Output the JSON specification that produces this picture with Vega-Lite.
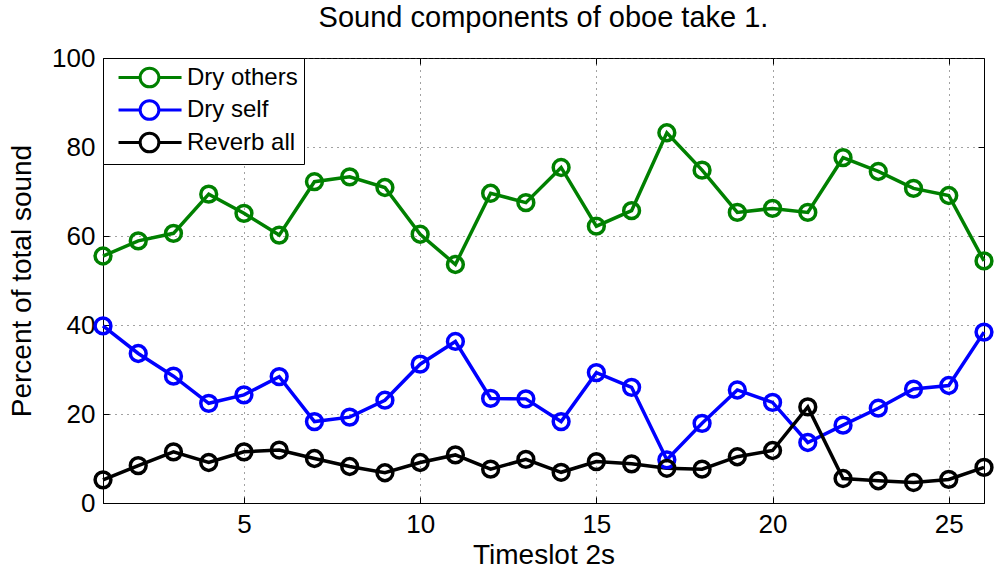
{
  "$schema": "https://vega.github.io/schema/vega-lite/v6.json",
  "width": 881,
  "height": 445,
  "autosize": {"type": "none"},
  "padding": {"left": 103, "top": 58, "right": 10, "bottom": 68},
  "background": "white",
  "title": {
    "text": "Sound components of oboe take 1.",
    "font": "Liberation Sans",
    "fontSize": 29,
    "fontWeight": "normal",
    "color": "black",
    "anchor": "middle",
    "offset": 12
  },
  "datasets": {
    "components": [
      {"slot": 1, "series": "Dry others", "pct": 55.5},
      {"slot": 2, "series": "Dry others", "pct": 58.9},
      {"slot": 3, "series": "Dry others", "pct": 60.6},
      {"slot": 4, "series": "Dry others", "pct": 69.4},
      {"slot": 5, "series": "Dry others", "pct": 65.1},
      {"slot": 6, "series": "Dry others", "pct": 60.2},
      {"slot": 7, "series": "Dry others", "pct": 72.2},
      {"slot": 8, "series": "Dry others", "pct": 73.3},
      {"slot": 9, "series": "Dry others", "pct": 70.9},
      {"slot": 10, "series": "Dry others", "pct": 60.4},
      {"slot": 11, "series": "Dry others", "pct": 53.6},
      {"slot": 12, "series": "Dry others", "pct": 69.6},
      {"slot": 13, "series": "Dry others", "pct": 67.5},
      {"slot": 14, "series": "Dry others", "pct": 75.4},
      {"slot": 15, "series": "Dry others", "pct": 62.2},
      {"slot": 16, "series": "Dry others", "pct": 65.7},
      {"slot": 17, "series": "Dry others", "pct": 83.2},
      {"slot": 18, "series": "Dry others", "pct": 74.8},
      {"slot": 19, "series": "Dry others", "pct": 65.3},
      {"slot": 20, "series": "Dry others", "pct": 66.2},
      {"slot": 21, "series": "Dry others", "pct": 65.3},
      {"slot": 22, "series": "Dry others", "pct": 77.6},
      {"slot": 23, "series": "Dry others", "pct": 74.5},
      {"slot": 24, "series": "Dry others", "pct": 70.7},
      {"slot": 25, "series": "Dry others", "pct": 69.1},
      {"slot": 26, "series": "Dry others", "pct": 54.4},
      {"slot": 1, "series": "Dry self", "pct": 39.8},
      {"slot": 2, "series": "Dry self", "pct": 33.6},
      {"slot": 3, "series": "Dry self", "pct": 28.5},
      {"slot": 4, "series": "Dry self", "pct": 22.4},
      {"slot": 5, "series": "Dry self", "pct": 24.3},
      {"slot": 6, "series": "Dry self", "pct": 28.4},
      {"slot": 7, "series": "Dry self", "pct": 18.3},
      {"slot": 8, "series": "Dry self", "pct": 19.3},
      {"slot": 9, "series": "Dry self", "pct": 23.1},
      {"slot": 10, "series": "Dry self", "pct": 31.2},
      {"slot": 11, "series": "Dry self", "pct": 36.3},
      {"slot": 12, "series": "Dry self", "pct": 23.5},
      {"slot": 13, "series": "Dry self", "pct": 23.4},
      {"slot": 14, "series": "Dry self", "pct": 18.3},
      {"slot": 15, "series": "Dry self", "pct": 29.3},
      {"slot": 16, "series": "Dry self", "pct": 26.0},
      {"slot": 17, "series": "Dry self", "pct": 9.7},
      {"slot": 18, "series": "Dry self", "pct": 17.9},
      {"slot": 19, "series": "Dry self", "pct": 25.4},
      {"slot": 20, "series": "Dry self", "pct": 22.6},
      {"slot": 21, "series": "Dry self", "pct": 13.6},
      {"slot": 22, "series": "Dry self", "pct": 17.5},
      {"slot": 23, "series": "Dry self", "pct": 21.3},
      {"slot": 24, "series": "Dry self", "pct": 25.6},
      {"slot": 25, "series": "Dry self", "pct": 26.4},
      {"slot": 26, "series": "Dry self", "pct": 38.4},
      {"slot": 1, "series": "Reverb all", "pct": 5.2},
      {"slot": 2, "series": "Reverb all", "pct": 8.4},
      {"slot": 3, "series": "Reverb all", "pct": 11.5},
      {"slot": 4, "series": "Reverb all", "pct": 9.1},
      {"slot": 5, "series": "Reverb all", "pct": 11.5},
      {"slot": 6, "series": "Reverb all", "pct": 11.9},
      {"slot": 7, "series": "Reverb all", "pct": 10.0},
      {"slot": 8, "series": "Reverb all", "pct": 8.2},
      {"slot": 9, "series": "Reverb all", "pct": 6.8},
      {"slot": 10, "series": "Reverb all", "pct": 9.1},
      {"slot": 11, "series": "Reverb all", "pct": 10.8},
      {"slot": 12, "series": "Reverb all", "pct": 7.6},
      {"slot": 13, "series": "Reverb all", "pct": 9.8},
      {"slot": 14, "series": "Reverb all", "pct": 6.9},
      {"slot": 15, "series": "Reverb all", "pct": 9.3},
      {"slot": 16, "series": "Reverb all", "pct": 8.8},
      {"slot": 17, "series": "Reverb all", "pct": 7.8},
      {"slot": 18, "series": "Reverb all", "pct": 7.6},
      {"slot": 19, "series": "Reverb all", "pct": 10.4},
      {"slot": 20, "series": "Reverb all", "pct": 11.8},
      {"slot": 21, "series": "Reverb all", "pct": 21.6},
      {"slot": 22, "series": "Reverb all", "pct": 5.5},
      {"slot": 23, "series": "Reverb all", "pct": 5.0},
      {"slot": 24, "series": "Reverb all", "pct": 4.6},
      {"slot": 25, "series": "Reverb all", "pct": 5.3},
      {"slot": 26, "series": "Reverb all", "pct": 8.0}
    ]
  },
  "data": {"name": "components"},
  "encoding": {
    "color": {
      "field": "series",
      "type": "nominal",
      "scale": {
        "domain": ["Dry others", "Dry self", "Reverb all"],
        "range": ["#008000", "#0000ff", "#000000"]
      },
      "legend": {
        "title": null,
        "orient": "top-left",
        "offset": 0,
        "fillColor": "white",
        "strokeColor": "black",
        "padding": 6,
        "symbolType": "M-0.33,0H1.47M3.03,0H4.92M3.03,0A0.78,0.78,0,1,1,1.47,0A0.78,0.78,0,1,1,3.03,0Z",
        "symbolSize": 576,
        "symbolStrokeWidth": 3,
        "symbolFillColor": "transparent",
        "labelFont": "Liberation Sans",
        "labelFontSize": 24,
        "labelColor": "black",
        "labelOffset": 51,
        "rowPadding": 1.5
      }
    }
  },
  "layer": [
    {
      "mark": {
        "type": "line",
        "strokeWidth": 3.5,
        "point": {"shape": "circle", "filled": false, "size": 250, "strokeWidth": 3.5, "opacity": 1}
      },
      "encoding": {
        "x": {
          "field": "slot",
          "type": "quantitative",
          "scale": {"domain": [1, 26], "nice": false, "zero": false},
          "axis": {
            "title": "Timeslot 2s",
            "values": [5, 10, 15, 20, 25],
            "titlePadding": 4
          }
        },
        "y": {
          "field": "pct",
          "type": "quantitative",
          "scale": {"domain": [0, 100], "nice": false},
          "axis": {
            "title": "Percent of total sound",
            "values": [0, 20, 40, 60, 80, 100],
            "titlePadding": 15
          }
        }
      }
    },
    {
      "mark": {"type": "point", "opacity": 0},
      "encoding": {
        "x": {
          "field": "slot",
          "type": "quantitative",
          "axis": {"orient": "top", "title": null, "labels": false, "grid": false, "domain": false, "values": [5, 10, 15, 20, 25]}
        },
        "y": {
          "field": "pct",
          "type": "quantitative",
          "axis": {"orient": "right", "title": null, "labels": false, "grid": false, "domain": false, "values": [0, 20, 40, 60, 80, 100]}
        }
      }
    }
  ],
  "resolve": {"axis": {"x": "independent", "y": "independent"}},
  "config": {
    "view": {"stroke": "black", "strokeWidth": 1},
    "axis": {
      "labelFont": "Liberation Sans",
      "labelFontSize": 26,
      "labelColor": "black",
      "titleFont": "Liberation Sans",
      "titleFontSize": 28,
      "titleFontWeight": "normal",
      "titleColor": "black",
      "domainColor": "black",
      "tickColor": "black",
      "tickSize": -6,
      "labelPadding": 14,
      "grid": true,
      "gridColor": "#444444",
      "gridDash": [1, 5],
      "gridOpacity": 1,
      "gridWidth": 1
    }
  }
}
